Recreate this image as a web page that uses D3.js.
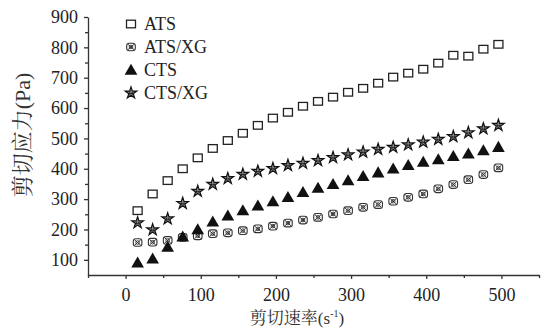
<!DOCTYPE html>
<html>
<head>
<meta charset="utf-8">
<script src="https://cdn.jsdelivr.net/npm/d3@7"></script>
<style>
  body { margin: 0; background: #fff; }
</style>
</head>
<body>
<div id="chart"></div>
<script>
// shear rate (s^-1)
const shearRate = [16, 36, 56, 76, 96, 116, 136, 156, 176, 196, 216, 236, 256,
    276, 296, 316, 336, 356, 376, 396, 416, 436, 456, 476, 496];

// shear stress (Pa) per sample
const ats = [262, 317, 361, 400, 436, 467, 493, 517, 543, 567, 586, 606, 622,
    636, 652, 665, 682, 702, 715, 728, 748, 774, 771, 794, 810];
const atsXg = [157, 158, 164, 174, 179, 186, 189, 196, 202, 211, 221, 231, 240,
    251, 262, 273, 282, 293, 306, 317, 334, 348, 364, 381, 403];
const cts = [90, 103, 142, 176, 200, 225, 245, 262, 278, 292, 306, 322, 336,
    349, 361, 375, 387, 400, 411, 422, 430, 441, 449, 460, 471];
const ctsXg = [222, 199, 235, 286, 326, 349, 368, 382, 392, 401, 411, 418, 427,
    437, 446, 455, 464, 471, 479, 488, 497, 506, 519, 532, 543];

const seriesNames = ["ATS", "ATS/XG", "CTS", "CTS/XG"];
const xTicks = [0, 100, 200, 300, 400, 500];
const yTicks = [100, 200, 300, 400, 500, 600, 700, 800, 900];

const SERIF = "'Liberation Serif', 'Noto Serif CJK SC', serif";
const CJK = "'Noto Serif CJK SC', serif";

function main() {
    const width = 547;
    const height = 332;

    const svg = d3.select("#chart").append("svg")
        .attr("width", width)
        .attr("height", height);

    const x = d3.scaleLinear().domain([-50, 550]).range([88, 539]);
    const y = d3.scaleLinear().domain([50, 900]).range([275, 17]);

    const series = [
        { name: seriesNames[0], values: ats, type: "square" },
        { name: seriesNames[1], values: atsXg, type: "circlex" },
        { name: seriesNames[2], values: cts, type: "triangle" },
        { name: seriesNames[3], values: ctsXg, type: "star" }
    ];

    // draw one marker into a group at 0,0
    function drawMarker(g, type) {
        if (type === "square") {
            g.append("rect")
                .attr("x", -4.5).attr("y", -3.8)
                .attr("width", 9).attr("height", 7.6)
                .attr("fill", "#fff").attr("stroke", "#222").attr("stroke-width", 1.3);
        } else if (type === "circlex") {
            g.append("rect")
                .attr("x", -4.3).attr("y", -3.8)
                .attr("width", 8.6).attr("height", 7.6).attr("rx", 2.5)
                .attr("fill", "#fff").attr("stroke", "#333").attr("stroke-width", 1.1);
            g.append("path")
                .attr("d", "M-3,-2.6L3,2.6M-3,2.6L3,-2.6")
                .attr("stroke", "#333").attr("stroke-width", 1);
            g.append("circle").attr("r", 1.8)
                .attr("fill", "none").attr("stroke", "#333").attr("stroke-width", 0.9);
        } else if (type === "triangle") {
            g.append("path")
                .attr("d", d3.symbol().type(d3.symbolTriangle).size(70)())
                .attr("transform", "translate(0,1)")
                .attr("fill", "#111");
        } else {
            g.append("path")
                .attr("d", d3.symbol().type(d3.symbolStar).size(42)())
                .attr("fill", "#8a8a8a").attr("stroke", "#111").attr("stroke-width", 1.2);
            g.append("path")
                .attr("d", "M-1.3,-1V1.8M1.3,-1V1.8M-1.3,0.4H1.3")
                .attr("stroke", "#111").attr("stroke-width", 0.8);
        }
    }

    // axes
    svg.append("g")
        .attr("transform", "translate(88,0)")
        .call(d3.axisLeft(y).tickValues(yTicks).tickSize(4).tickSizeOuter(0).tickPadding(6));
    svg.append("g")
        .attr("transform", "translate(88,0)")
        .call(d3.axisLeft(y).tickValues(d3.range(150, 900, 100)).tickSize(3).tickFormat(""))
        .select(".domain").remove();

    svg.append("g")
        .attr("transform", "translate(0,275)")
        .call(d3.axisBottom(x).tickValues(xTicks).tickSize(4).tickSizeOuter(0).tickPadding(9));
    svg.append("g")
        .attr("transform", "translate(0,275)")
        .call(d3.axisBottom(x).tickValues([-50, 50, 150, 250, 350, 450, 550]).tickSize(3).tickFormat(""))
        .select(".domain").remove();

    svg.selectAll(".domain, .tick line")
        .attr("stroke", "#333")
        .attr("stroke-width", 1.3);
    svg.selectAll(".tick text")
        .style("font-family", SERIF)
        .style("font-size", "18px")
        .attr("fill", "#222");

    // points
    series.forEach(function (s) {
        const g = svg.append("g");
        s.values.forEach(function (v, i) {
            const m = g.append("g")
                .attr("transform", "translate(" + x(shearRate[i]) + "," + y(v) + ")");
            drawMarker(m, s.type);
        });
    });

    // legend
    const legend = svg.append("g").attr("transform", "translate(131,24)");
    series.forEach(function (s, i) {
        const row = legend.append("g").attr("transform", "translate(0," + (i * 23) + ")");
        drawMarker(row.append("g"), s.type);
        row.append("text")
            .attr("x", 13)
            .attr("y", 6)
            .style("font-family", SERIF)
            .style("font-size", "18px")
            .attr("fill", "#222")
            .text(s.name);
    });

    // axis titles
    const xt = svg.append("text")
        .attr("x", 297)
        .attr("y", 324)
        .attr("text-anchor", "middle")
        .attr("fill", "#333")
        .style("font-family", SERIF)
        .style("font-size", "17px");
    xt.append("tspan").style("font-family", CJK).text("剪切速率");
    xt.append("tspan").text("(s");
    xt.append("tspan").style("font-size", "10px").attr("dy", -7).text("-1");
    xt.append("tspan").attr("dy", 7).text(")");

    const yt = svg.append("text")
        .attr("transform", "translate(30,135) rotate(-90)")
        .attr("text-anchor", "middle")
        .attr("fill", "#333")
        .style("font-family", SERIF)
        .style("font-size", "22px");
    yt.append("tspan").style("font-family", CJK).text("剪切应力");
    yt.append("tspan").text("(Pa)");
}
main();
</script>
</body>
</html>
